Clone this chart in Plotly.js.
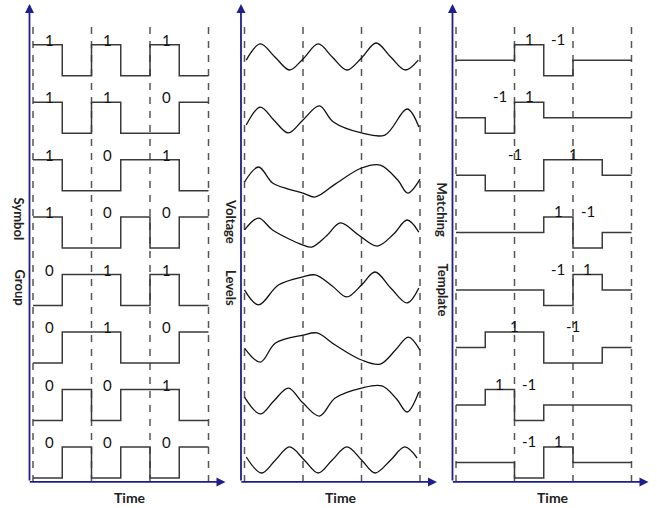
<!DOCTYPE html>
<html>
<head>
<meta charset="utf-8">
<script src="https://cdn.plot.ly/plotly-3.0.1.min.js"></script>
<style>
html,body{margin:0;padding:0;background:#ffffff;}
#chart{width:657px;height:508px;}
</style>
</head>
<body>
<div id="chart"></div>
<script>
// ---------------- DATA ----------------
// symbol groups (rows, top to bottom)
const symbolBits = [
  ["1","1","1"],
  ["1","1","0"],
  ["1","0","1"],
  ["1","0","0"],
  ["0","1","1"],
  ["0","1","0"],
  ["0","0","1"],
  ["0","0","0"]
];
// half-symbol time instants (in symbol periods)
const halfTimes = [0, 0.5, 1, 1.5, 2, 2.5, 3];
// symbol boundaries (dashed lines)
const symbolBoundaries = [0, 1, 2, 3];

// Panel 1: square-wave levels per half symbol (1 = high, 0 = low)
const symbolLevels = [
  [1,0,1,0,1,0],
  [1,0,1,0,0,1],
  [1,0,0,1,1,0],
  [1,0,0,1,0,1],
  [0,1,1,0,1,0],
  [0,1,1,0,0,1],
  [0,1,0,1,1,0],
  [0,1,0,1,0,1]
];

// Panel 2: voltage waveforms (time in symbol periods, relative level)
const voltageTimes = [
  [0.03,0.27,0.52,0.77,1.0,1.26,1.5,1.75,2.0,2.25,2.5,2.75,2.97],
  [0.03,0.27,0.5,0.75,1.0,1.28,1.52,2.0,2.4,2.78,2.98],
  [0.0,0.24,0.48,0.75,1.0,1.21,1.55,2.0,2.32,2.62,2.79,3.0],
  [0.0,0.24,0.48,1.0,1.15,1.4,1.64,1.95,2.27,2.55,2.78,2.98],
  [0.0,0.24,0.58,1.0,1.21,1.5,1.75,2.0,2.23,2.5,2.78,2.98],
  [0.0,0.27,0.53,1.0,1.24,1.55,2.0,2.32,2.58,2.8,3.0],
  [0.0,0.27,0.5,0.75,1.0,1.28,1.55,2.0,2.35,2.6,2.78,2.98],
  [0.03,0.29,0.53,0.77,1.02,1.26,1.5,1.75,2.0,2.23,2.5,2.74,2.95]
];
const voltageValues = [
  [0.01,1.16,0.23,-0.7,0.09,1.16,0.23,-0.7,0.16,1.23,0.23,-0.7,0.01],
  [-0.52,0.76,-0.16,-1.09,-0.16,0.84,-0.31,-1.09,-1.24,0.62,-0.66],
  [-0.49,0.58,-0.56,-1.0,-1.28,-1.56,-0.64,0.51,0.72,-0.35,-1.28,-0.28],
  [0.19,1.04,0.19,-0.89,-1.03,-0.24,0.69,-0.17,-0.96,-0.1,0.9,0.04],
  [0.01,-1.06,0.36,0.94,1.08,0.29,-0.49,0.36,1.29,0.15,-0.92,0.15],
  [-0.04,-1.04,0.32,0.89,1.04,0.18,-0.89,-1.18,-0.18,0.75,-0.18],
  [0.57,-0.64,0.29,1.21,0.14,-0.79,0.5,1.21,1.36,0.43,-0.5,0.93],
  [0.39,-0.75,0.18,1.11,0.18,-0.75,0.18,1.11,0.18,-0.75,0.18,1.11,0.32]
];

// Panel 3: matching template levels per half symbol (-1, 0, +1)
const templateLevels = [
  [0,0,1,-1,0,0],
  [0,-1,1,0,0,0],
  [0,-1,-1,1,1,0],
  [0,0,0,1,-1,0],
  [0,0,0,-1,1,0],
  [0,1,1,-1,-1,0],
  [0,1,-1,0,0,0],
  [0,0,-1,1,0,0]
];

const panelTitles = [["Symbol","Group"],["Voltage","Levels"],["Matching","Template"]];
const timeLabel = "Time";

// ---------------- LAYOUT / STYLE ----------------
const W = 657, H = 508;
const nRows = symbolLevels.length;
const rowPx = 57.47;           // px per row unit
const symPx = 58.5;            // px per symbol period
const sqAmp = 15.5 / rowPx;    // square wave half-height
const tplAmp = 15.5 / rowPx;   // template step height
const vAmp = 14 / rowPx;       // voltage amplitude
const yRange = [-0.792, 8.0475];
const axisBottom = -0.339, axisTop = 7.98, dashTop = 7.61;
const axisX = -0.06, arrowX = 3.29;
const originPx = [33, 244.5, 456];
const axisColor = '#1f1f8c';
const waveColor = '#3a3a3a';
const dashColor = '#555555';
const FONT = 'Lato, "Open Sans", sans-serif';

const xNames = ['x','x2','x3'];
const yNames = ['y','y2','y3'];
const traces = [];
const shapes = [];
const annotations = [];

function rowBase(k){ return (nRows - 1) - k; }

// Panel 1 square waves + bit labels
symbolLevels.forEach((lv, k) => {
  const ys = lv.concat([lv[lv.length-1]]).map(v => rowBase(k) + (v ? sqAmp : -sqAmp));
  traces.push({x: halfTimes, y: ys, xaxis:'x', yaxis:'y', mode:'lines',
    line:{shape:'hv', color:waveColor, width:1.5}, hoverinfo:'skip'});
  symbolBits[k].forEach((b, s) => {
    annotations.push({x: s + 0.28, y: rowBase(k) + sqAmp, xref:'x', yref:'y',
      text: b, showarrow:false, yshift:5, font:{family:FONT, size:15, color:'#111'}});
  });
});

// Panel 2 voltage curves
voltageTimes.forEach((ts, k) => {
  traces.push({x: ts, y: voltageValues[k].map(v => rowBase(k) + v * vAmp),
    xaxis:'x2', yaxis:'y2', mode:'lines',
    line:{shape:'spline', smoothing:1, color:'#111', width:1.3}, hoverinfo:'skip'});
});

// Panel 3 template steps + labels
templateLevels.forEach((lv, k) => {
  const ys = lv.concat([lv[lv.length-1]]).map(v => rowBase(k) + v * tplAmp);
  traces.push({x: halfTimes, y: ys, xaxis:'x3', yaxis:'y3', mode:'lines',
    line:{shape:'hv', color:waveColor, width:1.5}, hoverinfo:'skip'});
  let i = 0;
  while (i < lv.length) {
    if (lv[i] !== 0) {
      let j = i;
      while (j + 1 < lv.length && lv[j+1] === lv[i]) j++;
      const tc = (halfTimes[i] + halfTimes[j+1]) / 2;
      annotations.push({x: tc, y: rowBase(k) + tplAmp, xref:'x3', yref:'y3',
        text: lv[i] > 0 ? '1' : '-1', showarrow:false, yshift:6,
        font:{family:FONT, size:15, color:'#111'}});
      i = j + 1;
    } else i++;
  }
});

// dashed symbol boundaries, axes arrows, titles
const titleY = [[4.237, 3.036],[4.185, 3.036],[4.394, 3.0]];
for (let p = 0; p < 3; p++) {
  const xr = xNames[p], yr = yNames[p];
  symbolBoundaries.forEach(b => {
    shapes.push({type:'line', xref:xr, yref:yr, x0:b, x1:b, y0:axisBottom, y1:dashTop,
      line:{color:dashColor, width:1.5, dash:'7px,7px'}, layer:'below'});
  });
  // vertical axis arrow
  annotations.push({x: axisX, y: axisTop, ax: axisX, ay: axisBottom, xref:xr, yref:yr,
    axref:xr, ayref:yr, text:'', showarrow:true, arrowhead:2, arrowsize:1,
    arrowwidth:1.8, arrowcolor:axisColor, standoff:0, startstandoff:0});
  // horizontal axis arrow
  annotations.push({x: arrowX, y: axisBottom, ax: axisX - 0.02, ay: axisBottom, xref:xr, yref:yr,
    axref:xr, ayref:yr, text:'', showarrow:true, arrowhead:2, arrowsize:1,
    arrowwidth:1.8, arrowcolor:axisColor, standoff:0, startstandoff:0});
  // time label
  annotations.push({x: 1.65, y: -0.609, xref:xr, yref:yr, text:'<b>' + timeLabel + '</b>',
    showarrow:false, font:{family:FONT, size:14, color:'#222'}});
  // y titles
  panelTitles[p].forEach((w, i) => {
    annotations.push({x: axisX, y: titleY[p][i], xref:xr, yref:yr, xshift:-10,
      text:'<b>' + w + '</b>', textangle:90, showarrow:false,
      font:{family:FONT, size:13, color:'#222'}});
  });
}

const layout = {
  width: W, height: H,
  margin: {l:0, r:0, t:0, b:0, pad:0},
  paper_bgcolor:'#ffffff', plot_bgcolor:'rgba(0,0,0,0)',
  showlegend:false,
  shapes: shapes, annotations: annotations
};
for (let p = 0; p < 3; p++) {
  const d0 = p / 3, d1 = (p + 1) / 3;
  const domStartPx = d0 * W;
  const r0 = -(originPx[p] - domStartPx) / symPx;
  const r1 = r0 + (W / 3) / symPx;
  const xk = p === 0 ? 'xaxis' : 'xaxis' + (p + 1);
  const yk = p === 0 ? 'yaxis' : 'yaxis' + (p + 1);
  layout[xk] = {domain:[d0, d1], range:[r0, r1], visible:false, fixedrange:true,
    anchor: yNames[p], showgrid:false, zeroline:false};
  layout[yk] = {domain:[0, 1], range:yRange, visible:false, fixedrange:true,
    anchor: xNames[p], showgrid:false, zeroline:false};
}

Plotly.newPlot('chart', traces, layout, {staticPlot:true, displayModeBar:false});
</script>
</body>
</html>
